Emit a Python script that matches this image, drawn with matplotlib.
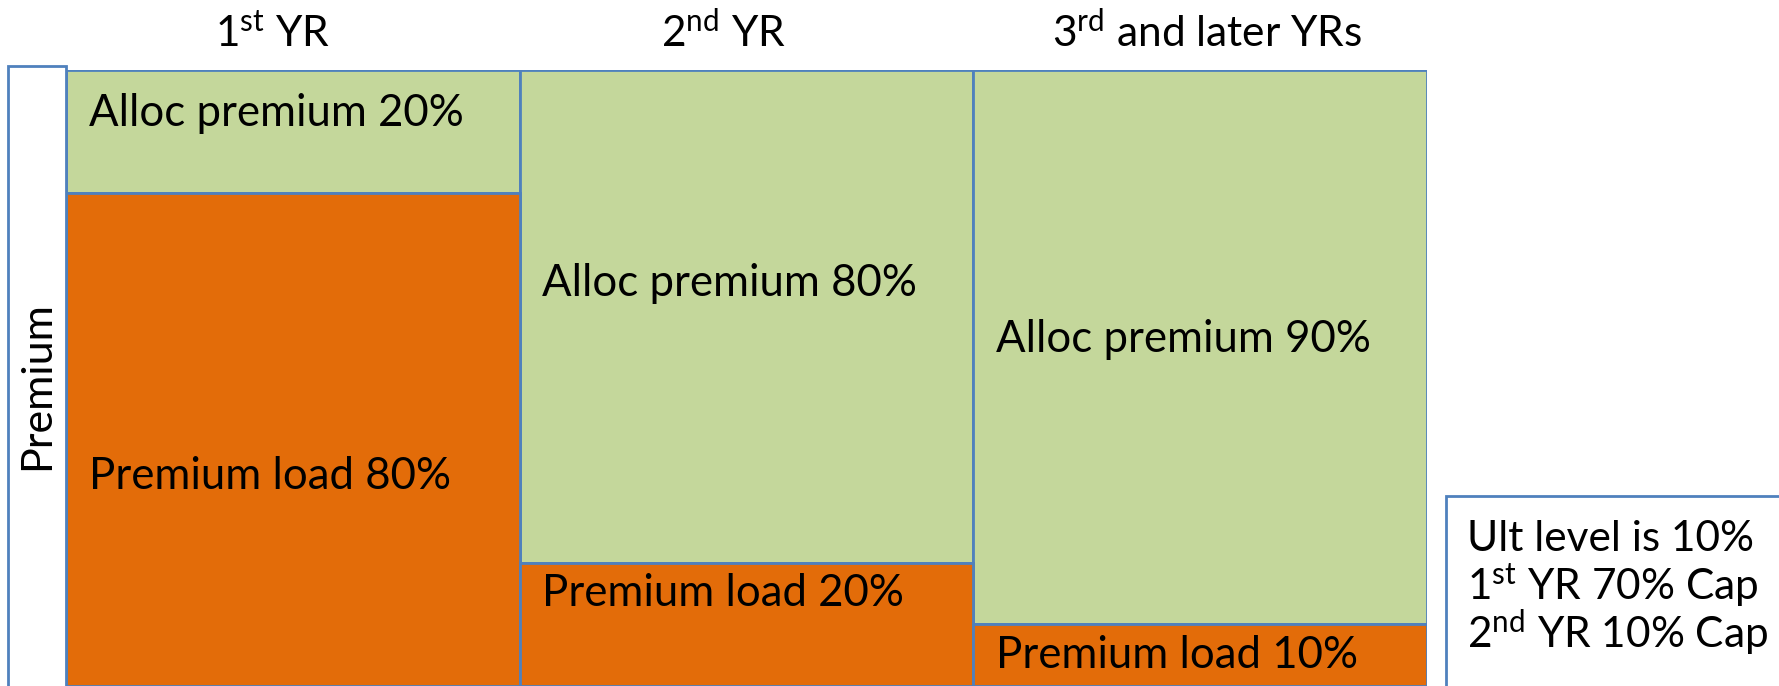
import matplotlib
matplotlib.use("Agg")
import matplotlib.pyplot as plt
from matplotlib.patches import Rectangle

plt.rcParams['font.family'] = ['Lato', 'DejaVu Sans']
plt.rcParams['mathtext.fontset'] = 'custom'
plt.rcParams['mathtext.rm'] = 'Lato'
plt.rcParams['mathtext.it'] = 'Lato'

# datos
years = ['1$^{\\mathrm{st}}$ YR', '2$^{\\mathrm{nd}}$ YR', '3$^{\\mathrm{rd}}$ and later YRs']
alloc = [20, 80, 90]
load = [80, 20, 10]
notes = ['Ult level is 10%', '1$^{\\mathrm{st}}$ YR 70% Cap', '2$^{\\mathrm{nd}}$ YR 10% Cap']

verde = '#C4D79B'
naranja = '#E36C09'
azul = '#4F81BD'

W, H = 1779, 686
fig = plt.figure(figsize=(W / 100, H / 100), dpi=100)

# ejes de las columnas (y invertido: el premium asignado arriba)
ax = fig.add_axes([66 / W, 0, (1427 - 66) / W, (686 - 70) / H])
x = range(len(years))
ax.bar(x, alloc, width=1, bottom=0, color=verde, edgecolor=azul, linewidth=2)
ax.bar(x, load, width=1, bottom=alloc, color=naranja, edgecolor=azul, linewidth=2)
ax.set_xlim(-0.5, len(years) - 0.5)
ax.set_ylim(100, 0)
ax.axis('off')

# posicion de las etiquetas dentro de cada columna
y_alloc = [7, 34.7, 43.8]
y_load = [66, 85, 95]
dx_titulo = [-0.045, -0.05, 0.015]

fs = 31.5
for i in x:
    ax.text(i - 0.45, y_alloc[i], f'Alloc premium {alloc[i]}%',
            fontsize=fs, va='center', ha='left')
    ax.text(i - 0.45, y_load[i], f'Premium load {load[i]}%',
            fontsize=fs, va='center', ha='left')
    ax.text(i + dx_titulo[i], -2.6, years[i], fontsize=30.5, ha='center', va='bottom',
            clip_on=False)

# caja "Premium" a la izquierda
fig.patches.append(Rectangle((8 / W, -0.1), (66 - 8) / W, 0.1 + (686 - 66) / H,
                             transform=fig.transFigure, facecolor='white',
                             edgecolor=azul, linewidth=2))
fig.text(37 / W, 1 - 386 / H, 'Premium', rotation=90, fontsize=31,
         ha='center', va='center')

# caja de notas
fig.patches.append(Rectangle((1446 / W, -0.1), 0.2, 0.1 + (686 - 496) / H,
                             transform=fig.transFigure, facecolor='white',
                             edgecolor=azul, linewidth=2))
for k, t in enumerate(notes):
    fig.text(1467 / W, 1 - (539 + 47 * k) / H, t, fontsize=30.5, ha='left', va='center')

fig.savefig('out.png', dpi=100)
